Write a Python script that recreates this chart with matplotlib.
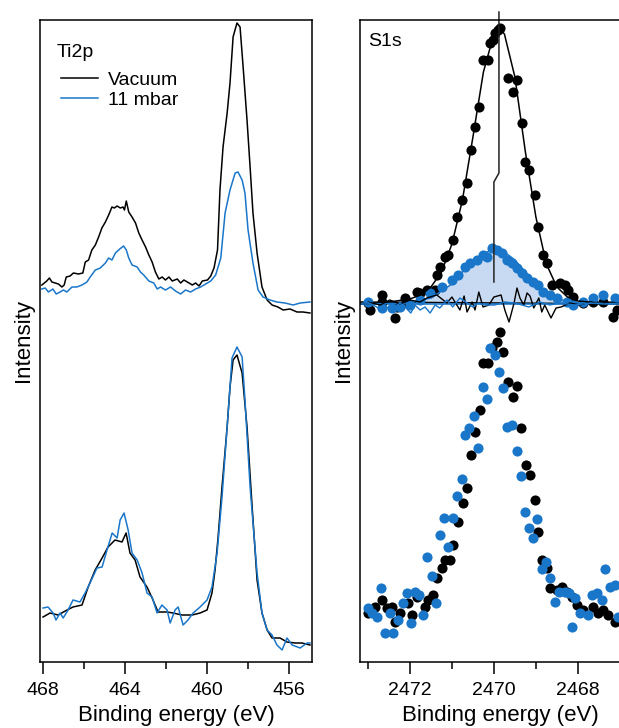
import matplotlib
matplotlib.use("Agg")
import matplotlib.pyplot as plt
from matplotlib.ticker import MultipleLocator

plt.rcParams['font.family'] = ['Liberation Sans', 'DejaVu Sans']

BLACK = 'black'
BLUE = '#1a76c9'
FILL = '#c8daf1'

# ---- Ti2p (left), intensities in arbitrary units, top pair offset upward ----
ti_vac_top_e = [468.06, 467.82, 467.69, 467.57, 467.41, 467.25, 467.08, 466.97, 466.87, 466.68,
                466.52, 466.27, 466.06, 465.94, 465.78, 465.62, 465.45, 465.29, 465.13, 464.96,
                464.80, 464.64, 464.52, 464.39, 464.23, 464.10, 464.03, 463.94, 463.82, 463.66,
                463.49, 463.33, 463.17, 463.00, 462.84, 462.68, 462.52, 462.35, 462.19, 462.03,
                461.86, 461.70, 461.45, 461.29, 461.13, 460.88, 460.72, 460.56, 460.39, 460.23,
                459.98, 459.82, 459.66, 459.49, 459.37, 459.22, 459.02, 458.88, 458.73, 458.54,
                458.39, 458.24, 458.05, 457.90, 457.76, 457.56, 457.32, 457.07, 456.83, 456.54,
                456.29, 455.95, 455.61, 455.32, 454.98]
ti_vac_top_i = [377, 381, 384, 380, 379, 378, 375, 377, 385, 386,
                389, 388, 389, 400, 402, 412, 417, 425, 434, 440,
                447, 455, 454, 456, 454, 455, 452, 461, 450, 445,
                439, 429, 422, 415, 407, 400, 390, 383, 385, 382,
                385, 381, 383, 379, 382, 379, 377, 379, 376, 381,
                382, 386, 394, 412, 472, 515, 549, 579, 625, 639,
                635, 595, 542, 495, 449, 409, 375, 362, 357, 355,
                352, 353, 350, 350, 349]

ti_gas_top_e = [468.06, 467.90, 467.74, 467.52, 467.36, 467.17, 467.01, 466.84, 466.59, 466.35,
                466.10, 465.86, 465.70, 465.45, 465.21, 464.96, 464.80, 464.64, 464.47, 464.26,
                464.07, 463.94, 463.82, 463.66, 463.41, 463.25, 463.09, 462.84, 462.60, 462.43,
                462.27, 462.03, 461.78, 461.54, 461.29, 461.05, 460.80, 460.56, 460.31, 460.07,
                459.82, 459.58, 459.33, 459.12, 458.88, 458.63, 458.49, 458.29, 458.15, 458.00,
                457.76, 457.51, 457.27, 456.93, 456.59, 456.20, 455.80, 455.46, 454.98]
ti_gas_top_i = [373, 374, 370, 373, 368, 370, 372, 370, 375, 375,
                377, 380, 385, 392, 394, 399, 404, 402, 409, 413,
                416, 412, 404, 397, 395, 390, 387, 381, 379, 373,
                375, 372, 375, 371, 368, 372, 370, 373, 375, 378,
                381, 387, 404, 449, 472, 489, 490, 482, 469, 432,
                399, 372, 365, 362, 360, 359, 357, 359, 360]

ti_vac_bot_e = [468.00, 467.66, 467.27, 466.83, 466.54, 466.10, 465.80, 465.46, 465.12, 464.83,
                464.49, 464.15, 463.95, 463.76, 463.51, 463.27, 462.93, 462.68, 462.39, 461.95,
                461.66, 461.22, 460.73, 460.34, 460.00, 459.76, 459.61, 459.46, 459.27, 459.02,
                458.88, 458.73, 458.54, 458.29, 458.05, 457.80, 457.56, 457.32, 457.07, 456.83,
                456.44, 456.10, 455.71, 455.37, 454.98]
ti_vac_bot_i = [45, 49, 47, 52, 55, 57, 75, 92, 104, 115,
                122, 120, 129, 109, 102, 85, 75, 64, 50, 50,
                49, 47, 47, 49, 52, 69, 92, 125, 175, 235,
                275, 302, 307, 289, 235, 155, 82, 49, 32, 24,
                24, 20, 19, 19, 17]

ti_gas_bot_e = [468.00, 467.76, 467.51, 467.37, 467.17, 467.02, 466.78, 466.54, 466.20, 465.95,
                465.71, 465.37, 465.12, 464.88, 464.63, 464.39, 464.24, 464.05, 463.85, 463.66,
                463.41, 463.17, 462.93, 462.68, 462.44, 462.20, 461.95, 461.80, 461.56, 461.41,
                461.17, 460.93, 460.68, 460.34, 460.00, 459.76, 459.51, 459.27, 459.02, 458.78,
                458.54, 458.29, 458.15, 457.90, 457.56, 457.32, 457.07, 456.83, 456.59, 456.34,
                456.10, 455.85, 455.46, 455.12, 454.98]
ti_gas_bot_i = [54, 55, 49, 42, 49, 44, 52, 62, 60, 69,
                79, 94, 95, 112, 129, 124, 142, 149, 132, 109,
                102, 89, 69, 65, 49, 57, 52, 39, 52, 55,
                37, 42, 49, 55, 62, 75, 109, 165, 235, 304,
                315, 305, 262, 175, 89, 49, 32, 27, 17, 12,
                24, 17, 14, 19, 19]

# ---- S1s (right) ----
s_vac_top_e = [2473.00, 2472.95, 2472.67, 2472.67, 2472.36, 2472.31, 2472.12, 2472.07, 2471.83, 2471.76,
               2471.60, 2471.40, 2471.36, 2471.29, 2471.17, 2471.10, 2470.98, 2470.88, 2470.76, 2470.64,
               2470.55, 2470.45, 2470.36, 2470.26, 2470.14, 2470.10, 2470.02, 2469.98, 2469.90, 2469.86,
               2469.67, 2469.55, 2469.45, 2469.33, 2469.26, 2469.17, 2469.02, 2468.95, 2468.83, 2468.74,
               2468.62, 2468.43, 2468.31, 2468.24, 2468.12, 2467.88, 2467.64, 2467.40, 2467.17, 2467.07]
s_vac_top_i = [359, 352, 367, 360, 344, 355, 364, 359, 370, 369,
               372, 372, 387, 395, 405, 407, 422, 445, 462, 479,
               512, 535, 555, 602, 602, 619, 622, 629, 632, 634,
               584, 570, 582, 539, 500, 492, 467, 435, 407, 399,
               377, 379, 377, 372, 365, 359, 360, 360, 345, 352]

s_gas_top_e = [2473.00, 2472.67, 2472.43, 2472.24, 2472.00, 2471.76, 2471.52, 2471.24, 2471.00, 2470.86,
               2470.69, 2470.57, 2470.40, 2470.26, 2470.17, 2470.05, 2469.93, 2469.81, 2469.69, 2469.57,
               2469.45, 2469.33, 2469.21, 2469.07, 2468.95, 2468.83, 2468.67, 2468.50, 2468.26, 2468.12,
               2467.88, 2467.64, 2467.40, 2467.12]
s_gas_top_i = [360, 354, 354, 355, 357, 362, 369, 375, 382, 387,
               395, 399, 402, 407, 405, 414, 412, 409, 402, 399,
               394, 389, 384, 380, 377, 370, 367, 364, 360, 357,
               360, 364, 367, 364]

fit_vac_e = [2473.2, 2473.0, 2472.5, 2472.0, 2471.75, 2471.5, 2471.25, 2471.0, 2470.75, 2470.5,
             2470.25, 2470.0, 2469.88, 2469.75, 2469.5, 2469.25, 2469.0, 2468.75, 2468.5, 2468.25,
             2468.0, 2467.5, 2466.5]
fit_vac_i = [358, 358, 360, 363, 367, 375, 390, 418, 462, 525,
             590, 628, 634, 628, 585, 510, 445, 398, 375, 365,
             361, 359, 358]

fit_gas_e = [2473.2, 2473.0, 2472.0, 2471.5, 2471.0, 2470.75, 2470.5, 2470.25, 2470.0, 2469.75,
             2469.5, 2469.25, 2469.0, 2468.75, 2468.5, 2468.0, 2466.5]
fit_gas_i = [358, 358, 359, 364, 378, 390, 401, 409, 412, 410,
             402, 390, 378, 369, 363, 359, 358]

bg_e = [2473.2, 2466.5]
bg_vac_i = [360, 358]
bg_gas_i = [358, 358]

res_vac_e = [2473.00, 2472.71, 2472.48, 2472.24, 2472.00, 2471.76, 2471.60, 2471.36, 2471.12, 2471.00,
             2470.81, 2470.71, 2470.64, 2470.52, 2470.45, 2470.36, 2470.26, 2470.12, 2470.00, 2469.83,
             2469.74, 2469.64, 2469.52, 2469.45, 2469.38, 2469.29, 2469.21, 2469.14, 2469.05, 2468.93,
             2468.86, 2468.79, 2468.64, 2468.52, 2468.40, 2468.19, 2467.95, 2467.71, 2467.48, 2467.24,
             2467.02]
res_vac_i = [360, 357, 362, 358, 362, 360, 364, 367, 359, 365,
             352, 366, 350, 360, 352, 370, 355, 357, 365, 367,
             352, 340, 359, 374, 364, 357, 369, 366, 354, 364,
             350, 357, 344, 354, 355, 359, 357, 360, 358, 360,
             359]

res_gas_e = [2473.02, 2472.79, 2472.64, 2472.52, 2472.40, 2472.24, 2472.12, 2471.98, 2471.88, 2471.76,
             2471.64, 2471.52, 2471.40, 2471.29, 2471.12, 2470.98, 2470.81, 2470.64, 2470.50, 2470.38,
             2470.21, 2469.98, 2469.74, 2469.50, 2469.17, 2468.90, 2468.67, 2468.43, 2468.07, 2467.71,
             2467.36, 2467.02]
res_gas_i = [360, 355, 350, 355, 352, 359, 355, 349, 357, 352,
             355, 349, 357, 354, 362, 355, 364, 359, 355, 359,
             357, 357, 360, 359, 355, 360, 357, 359, 357, 359,
             358, 359]

# peak position marker (vacuum peak above, 11 mbar peak below)
marker_e = [2469.88, 2469.88, 2470.00, 2470.00]
marker_i = [650, 489, 480, 380]

s_vac_bot_e = [2473.00, 2472.83, 2472.67, 2472.55, 2472.43, 2472.36, 2472.24, 2472.05, 2471.95, 2471.83,
               2471.64, 2471.57, 2471.45, 2471.36, 2471.24, 2471.17, 2471.05, 2470.98, 2470.86, 2470.74,
               2470.64, 2470.55, 2470.45, 2470.33, 2470.26, 2470.14, 2470.05, 2469.93, 2469.86, 2469.79,
               2469.67, 2469.55, 2469.45, 2469.36, 2469.24, 2469.14, 2469.02, 2468.95, 2468.86, 2468.74,
               2468.67, 2468.50, 2468.38, 2468.26, 2468.14, 2468.02, 2467.88, 2467.64, 2467.52, 2467.40,
               2467.29, 2467.12]
s_vac_bot_i = [49, 55, 62, 54, 55, 40, 49, 59, 47, 65,
               55, 62, 67, 84, 94, 102, 102, 117, 140, 159,
               174, 207, 230, 252, 299, 299, 314, 320, 330, 310,
               280, 265, 276, 234, 197, 187, 162, 130, 102, 94,
               74, 72, 75, 70, 65, 57, 52, 55, 49, 52,
               47, 40]

s_gas_bot_e = [2473.00, 2472.90, 2472.79, 2472.69, 2472.60, 2472.48, 2472.40, 2472.29, 2472.17, 2472.07,
               2471.98, 2471.88, 2471.79, 2471.69, 2471.60, 2471.48, 2471.38, 2471.29, 2471.19, 2471.10,
               2470.98, 2470.88, 2470.76, 2470.69, 2470.60, 2470.48, 2470.38, 2470.26, 2470.17, 2470.10,
               2469.98, 2469.88, 2469.79, 2469.69, 2469.57, 2469.45, 2469.36, 2469.26, 2469.17, 2469.07,
               2468.98, 2468.86, 2468.76, 2468.67, 2468.55, 2468.45, 2468.31, 2468.21, 2468.14, 2468.07,
               2467.95, 2467.76, 2467.67, 2467.55, 2467.43, 2467.36, 2467.24, 2467.12, 2467.05]
s_gas_bot_i = [54, 49, 45, 74, 29, 49, 29, 42, 59, 69,
               39, 70, 67, 47, 105, 86, 59, 127, 144, 115,
               144, 166, 183, 227, 234, 246, 214, 275, 263, 314,
               307, 290, 274, 235, 237, 211, 186, 150, 134, 124,
               143, 93, 100, 84, 60, 70, 70, 69, 35, 64,
               49, 47, 67, 69, 62, 93, 75, 77, 45]

fig = plt.figure(figsize=(6.19, 7.28), dpi=100)
W, H = 619, 728
axL = fig.add_axes([40 / W, 66 / H, 272 / W, 642 / H])
axR = fig.add_axes([360 / W, 66 / H, 280 / W, 642 / H])

lw = 1.1
axL.plot(ti_vac_top_e, ti_vac_top_i, color=BLACK, lw=lw, label='Vacuum')
axL.plot(ti_gas_top_e, ti_gas_top_i, color=BLUE, lw=lw, label='11 mbar')
axL.plot(ti_vac_bot_e, ti_vac_bot_i, color=BLACK, lw=lw)
axL.plot(ti_gas_bot_e, ti_gas_bot_i, color=BLUE, lw=lw)
axL.set_xlim(468.15, 454.88)
axL.xaxis.set_major_locator(MultipleLocator(4))
axL.xaxis.set_minor_locator(MultipleLocator(2))
axL.text(0.0625, 0.95, 'Ti2p', transform=axL.transAxes, fontsize=14, ha='left', va='center')
axL.legend(loc='upper left', bbox_to_anchor=(0.05, 0.932), frameon=False,
           fontsize=14, handlelength=1.9, handletextpad=0.5, labelspacing=0.1,
           borderaxespad=0)

# S1s top: fits with fill, background, residuals, data
axR.fill_between(fit_gas_e, bg_gas_i[0], fit_gas_i, color=FILL, lw=0)
axR.plot(bg_e, bg_vac_i, color=BLACK, lw=lw)
axR.plot(bg_e, bg_gas_i, color=BLUE, lw=lw)
axR.plot(s_vac_top_e, s_vac_top_i, 'o', color=BLACK, ms=7.3, mew=0)
axR.plot(s_gas_top_e, s_gas_top_i, 'o', color=BLUE, ms=7.3, mew=0)
axR.plot(fit_vac_e, fit_vac_i, color=BLACK, lw=lw)
axR.plot(fit_gas_e, fit_gas_i, color=BLUE, lw=lw)
axR.plot(res_vac_e, res_vac_i, color=BLACK, lw=1.0)
axR.plot(res_gas_e, res_gas_i, color=BLUE, lw=1.0)
axR.plot(marker_e, marker_i, color='#222222', lw=1.1, clip_on=False)

# S1s bottom: normalised data
axR.plot(s_vac_bot_e, s_vac_bot_i, 'o', color=BLACK, ms=7.3, mew=0)
axR.plot(s_gas_bot_e, s_gas_bot_i, 'o', color=BLUE, ms=7.3, mew=0)
axR.set_xlim(2473.19, 2466.52)
axR.xaxis.set_major_locator(MultipleLocator(2))
axR.xaxis.set_minor_locator(MultipleLocator(1))
axR.text(0.03, 0.967, 'S1s', transform=axR.transAxes, fontsize=14, ha='left', va='center')

for ax in (axL, axR):
    ax.set_ylim(0, 642)
    ax.set_yticks([])
    ax.set_ylabel('Intensity', fontsize=16, labelpad=4)
    ax.set_xlabel('Binding energy (eV)', fontsize=16, labelpad=4)
    ax.tick_params(axis='x', which='major', length=8.5, width=1.1, labelsize=14, pad=6)
    ax.tick_params(axis='x', which='minor', length=5, width=1.1)
    for s in ax.spines.values():
        s.set_linewidth(1.1)

fig.savefig('out.png', dpi=100)
